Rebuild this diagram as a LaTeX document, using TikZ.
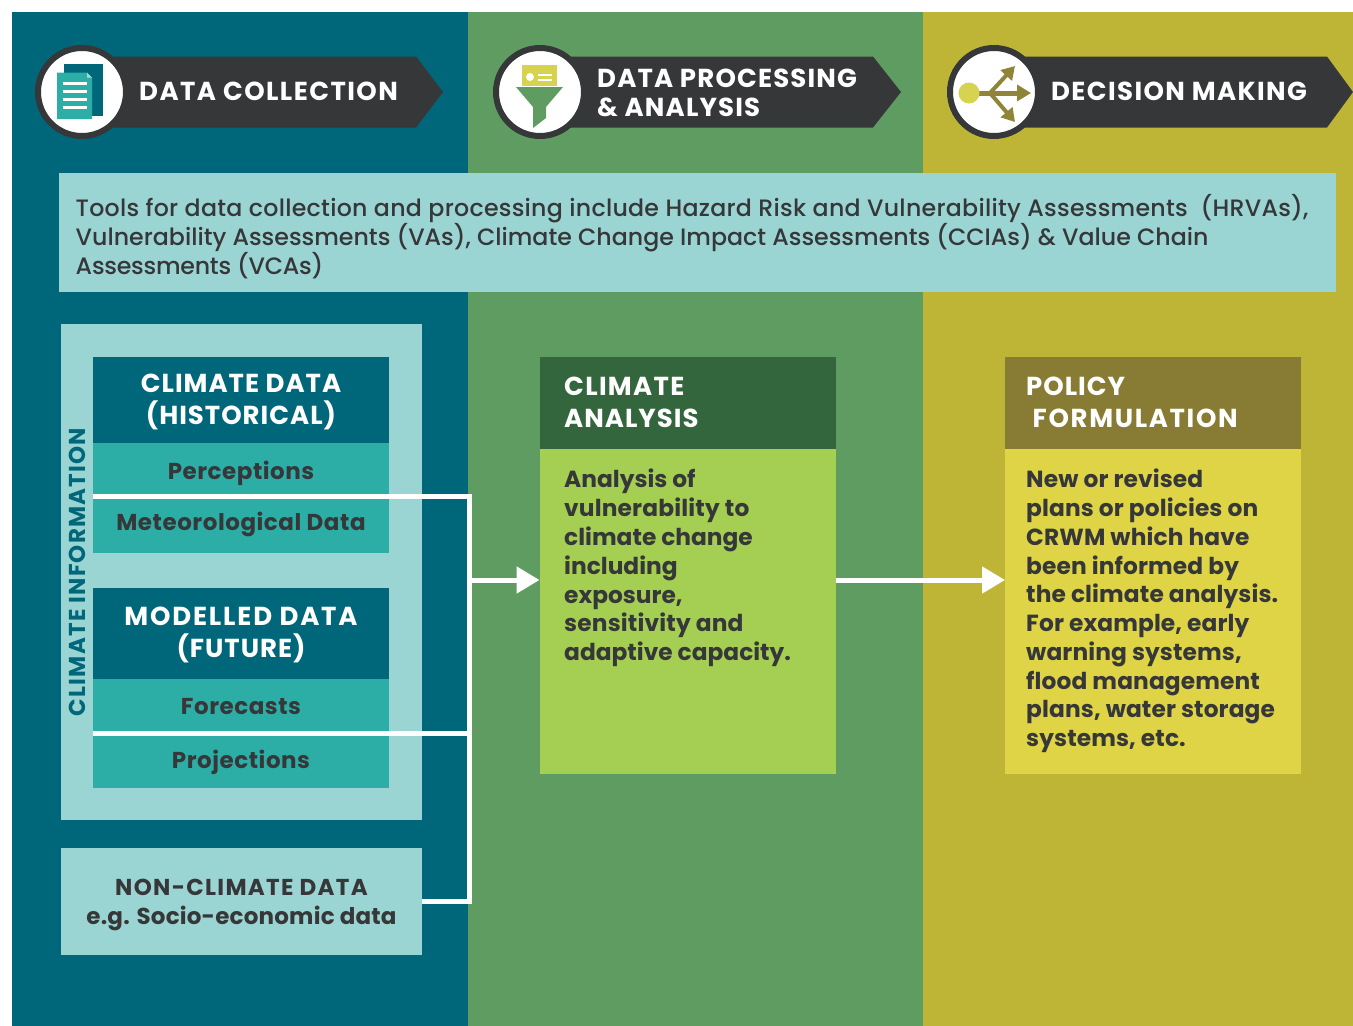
\documentclass[tikz,border=0pt]{standalone}
\usepackage{fontspec}
\setmainfont{Poppins Medium}[BoldFont=Poppins Bold]
\usetikzlibrary{arrows.meta}
\definecolor{deepteal}{HTML}{00677B}
\definecolor{colgreen}{HTML}{5F9C62}
\definecolor{cololive}{HTML}{BEB537}
\definecolor{lightteal}{HTML}{9BD5D3}
\definecolor{midteal}{HTML}{2CAEA6}
\definecolor{foldteal}{HTML}{A5DAD6}
\definecolor{inkdark}{HTML}{363739}
\definecolor{darkgreen}{HTML}{33663C}
\definecolor{limegreen}{HTML}{A5CF52}
\definecolor{darkolive}{HTML}{887C34}
\definecolor{iconolive}{HTML}{8F8438}
\definecolor{brightyellow}{HTML}{DFD445}
\definecolor{iconyellow}{HTML}{D6D350}
\newcommand{\headfont}{\bfseries\fontsize{26}{32}\selectfont\addfontfeature{LetterSpace=3.8}}
\newcommand{\track}[2]{{\addfontfeature{LetterSpace=#1}#2}}
\tikzset{
  panel/.style={draw=none,inner sep=0pt,outer sep=0pt,anchor=north west,minimum width=#1},
  bannertext/.style={text=white,font=\bfseries\fontsize{26}{29}\selectfont\addfontfeature{LetterSpace=4.5},align=left,anchor=west,inner sep=0pt},
  headtext/.style={text=white,font=\headfont,align=center},
  rowtext/.style={text=inkdark,font=\bfseries\fontsize{23}{28}\selectfont\addfontfeature{LetterSpace=2.3},align=center},
  bodytext/.style={text=inkdark,font=\bfseries\fontsize{23.3}{28.8}\selectfont,align=left,anchor=north west,inner sep=0pt},
  wire/.style={draw=white,line width=5pt},
  wirearrow/.style={wire,-{Triangle[length=23pt,width=26pt]}},
  banner/.style={fill=inkdark,draw=none},
  ring/.style={circle,fill=white,draw=inkdark,line width=6pt,minimum size=88pt,inner sep=0pt,outer sep=0pt},
}
\begin{document}
\begin{tikzpicture}[x=1pt,y=-1pt]
\useasboundingbox (0,0) rectangle (1353,1026);
\fill[white] (0,0) rectangle (1353,1026);
% columns
\fill[deepteal] (12,12) rectangle (468.2,1026);
\fill[colgreen] (468.2,12) rectangle (923.3,1026);
\fill[cololive] (923.3,12) rectangle (1353,1026);
% banners
\fill[banner] (100,56.5) -- (416,56.5) -- (443,92) -- (416,127.5) -- (100,127.5) -- cycle;
\fill[banner] (560,56.5) -- (873,56.5) -- (901,92) -- (873,127.5) -- (560,127.5) -- cycle;
\fill[banner] (1010,56.5) -- (1327,56.5) -- (1353,92) -- (1327,127.5) -- (1010,127.5) -- cycle;
\node[ring] (ringa) at (82,92) {};
\node[ring] (ringb) at (540,92) {};
\node[ring] (ringc) at (994,92) {};
\node[bannertext] (banA) at (139,91) {\track{5.5}{DATA COLLECTION}};
\node[bannertext] (banB) at (597,92.5) {DATA PROCESSING\\\& ANALYSIS};
\node[bannertext] (banC) at (1051,91) {\track{5.3}{DECISION MAKING}};
% document icon
\fill[deepteal] (64,64) rectangle (103,116);
\fill[midteal] (57,72.5) -- (87,72.5) -- (92,77.5) -- (92,119) -- (57,119) -- cycle;
\fill[foldteal] (87,72.5) -- (92,77.5) -- (87,77.5) -- cycle;
\foreach \yy in {83,91,99,107} \fill[white] (63,\yy-1.5) rectangle (87,\yy+1.5);
% funnel icon
\fill[iconyellow] (522,65) rectangle (557,86);
\fill[white] (530,77) circle (4);
\fill[white] (538,74) rectangle (552,76);
\fill[white] (538,79) rectangle (552,81);
\fill[colgreen] (516,87) -- (563,87) -- (546,107) -- (546,118) -- (533,128) -- (533,107) -- cycle;
% arrows icon
\coordinate (ia) at (969,93);
\coordinate (ib) at (990,93);
\draw[iconolive,line width=5pt,-{Triangle[length=14pt,width=16pt]}] (ia) -- (1031,93);
\draw[iconolive,line width=4pt,-{Triangle[length=13pt,width=15pt]}] (ib) -- (1015,66);
\draw[iconolive,line width=4pt,-{Triangle[length=13pt,width=15pt]}] (ib) -- (1015,122);
\fill[iconyellow] (ia) circle (10.5);
% info strip
\node[panel=1277pt,minimum height=119pt,fill=lightteal] (info) at (59,173) {};
\node[anchor=west,inner sep=0pt,align=left,text=inkdark,font=\fontsize{23.7}{29}\selectfont] (infotext) at (75.5,237)
  {\track{1.1}{Tools for data collection and processing include Hazard Risk and Vulnerability Assessments\ \ (HRVAs),}\\Vulnerability Assessments (VAs), Climate Change Impact Assessments (CCIAs) \& Value Chain\\\track{-1}{Assessments (VCAs)}};
% left column
\node[panel=361pt,minimum height=496pt,fill=lightteal] (climinfo) at (61,324) {};
\node[text=deepteal,font=\bfseries\fontsize{23}{26}\selectfont\addfontfeature{LetterSpace=5.2},rotate=90,inner sep=0pt] (climlabel) at (77,572) {CLIMATE INFORMATION};
\node[panel=296pt,minimum height=86pt,fill=deepteal] (hist) at (93,357) {};
\node[headtext] (histtext) at ([yshift=-2pt]hist.center) {CLIMATE DATA\\(HISTORICAL)};
\node[panel=296pt,minimum height=53pt,fill=midteal] (perc) at (93,443) {};
\node[rowtext] (perctext) at ([yshift=-3.5pt]perc.center) {Perceptions};
\node[panel=296pt,minimum height=57pt,fill=midteal,rowtext] (meteo) at (93,496) {Meteorological Data};
\node[panel=296pt,minimum height=91pt,fill=deepteal] (model) at (93,588) {};
\node[headtext] (modeltext) at ([yshift=-1pt]model.center) {\track{7}{MODELLED DATA}\\(FUTURE)};
\node[panel=296pt,minimum height=54pt,fill=midteal] (fore) at (93,679) {};
\node[rowtext] (foretext) at ([yshift=-1pt]fore.center) {Forecasts};
\node[panel=296pt,minimum height=55pt,fill=midteal] (proj) at (93,733) {};
\node[rowtext] (projtext) at ([yshift=-2pt]proj.center) {Projections};
\node[panel=361pt,minimum height=107pt,fill=lightteal] (nonclim) at (61,848) {};
\node[text=inkdark,align=center,inner sep=0pt,font=\bfseries\fontsize{23}{29}\selectfont] (nonclimtext) at ([yshift=-3pt]nonclim.center) {\track{5.6}{NON-CLIMATE DATA}\\\track{0.9}{e.g. Socio-economic data}};
% middle column
\node[panel=296pt,minimum height=92pt,fill=darkgreen] (cahead) at (539.5,357) {};
\node[headtext,anchor=west,align=left,inner sep=0pt] (catext) at (564,402) {\track{5}{CLIMATE}\\ANALYSIS};
\node[panel=296pt,minimum height=325pt,fill=limegreen] (cabody) at (539.5,449) {};
\node[bodytext] (catxt) at (564,469) {Analysis of\\\track{0.7}{vulnerability to}\\climate change\\including\\exposure,\\\track{0.7}{sensitivity and}\\adaptive capacity.};
% right column
\node[panel=296pt,minimum height=92pt,fill=darkolive] (pfhead) at (1005,357) {};
\node[headtext,anchor=west,align=left,inner sep=0pt] (pftext) at (1026,402) {POLICY\\\ \track{6.4}{FORMULATION}};
\node[panel=296pt,minimum height=325pt,fill=brightyellow] (pfbody) at (1005,449) {};
\node[bodytext,font=\bfseries\fontsize{23.3}{28.75}\selectfont\addfontfeature{LetterSpace=0.5}] (pftxt) at (1026,469) {New or revised\\plans or policies on\\CRWM which have\\been informed by\\the climate analysis.\\For example, early\\warning systems,\\flood management\\plans, water storage\\systems, etc.};
% connectors
\coordinate (bus) at (469.5,580);
\draw[wire] (meteo.north west) -- (bus |- meteo.north west) -- (bus |- nonclim.east) -- (nonclim.east);
\draw[wire] (proj.north west) -- (bus |- proj.north west);
\draw[wirearrow] (bus) -- (bus -| cabody.west);
\coordinate (out) at (cabody.east |- bus);
\draw[wirearrow] (out) -- (out -| pfbody.west);
\end{tikzpicture}
\end{document}
